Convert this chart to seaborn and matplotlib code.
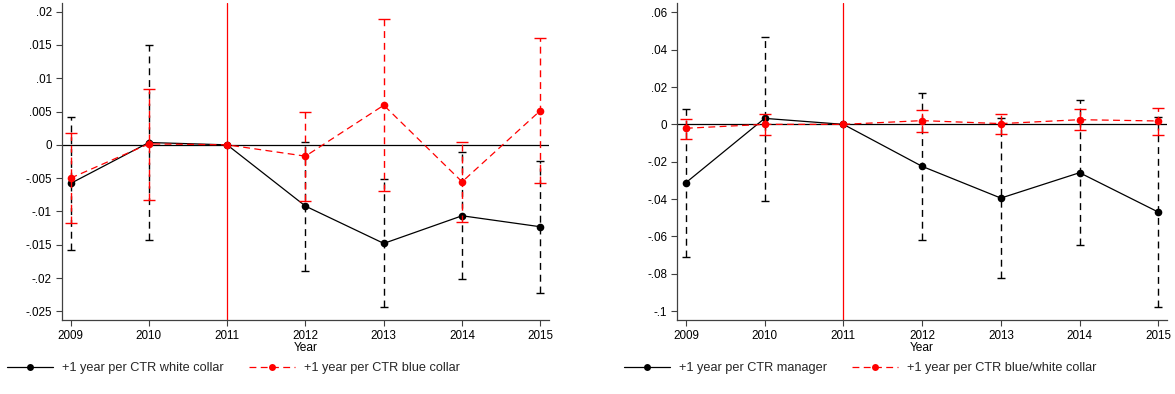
import numpy as np
import pandas as pd
import seaborn as sns
import matplotlib
matplotlib.use("Agg")
import matplotlib.pyplot as plt
from matplotlib.lines import Line2D
from matplotlib.ticker import FixedLocator, FixedFormatter

# ---- data -------------------------------------------------------------
years = [2009, 2010, 2011, 2012, 2013, 2014, 2015]
nan = np.nan

# left panel: white vs blue collar
white_coef = [-0.0058, 0.00035, 0.0, -0.0092, -0.0148, -0.01065, -0.0123]
white_lo = [-0.01585, -0.01425, nan, -0.0190, -0.0244, -0.0202, -0.0222]
white_hi = [0.00415, 0.0150, nan, 0.0005, -0.0052, -0.0010, -0.00245]
blue_coef = [-0.0050, 0.00015, 0.0, -0.0017, 0.00595, -0.00555, 0.00515]
blue_lo = [-0.0117, -0.00825, nan, -0.0085, -0.00695, -0.01155, -0.0058]
blue_hi = [0.0018, 0.00845, nan, 0.0050, 0.01885, 0.00045, 0.01605]

# right panel: manager vs blue/white collar
mgr_coef = [-0.03125, 0.0032, 0.0, -0.0225, -0.0395, -0.0259, -0.0470]
mgr_lo = [-0.0711, -0.0409, nan, -0.0620, -0.0823, -0.0648, -0.0980]
mgr_hi = [0.0084, 0.0470, nan, 0.0168, 0.0032, 0.0132, 0.0041]
bw_coef = [-0.0021, 0.0, 0.0, 0.0020, 0.0004, 0.0025, 0.0018]
bw_lo = [-0.0077, -0.0059, nan, -0.0043, -0.0052, -0.0032, -0.0055]
bw_hi = [0.0030, 0.0057, nan, 0.0079, 0.0055, 0.0084, 0.0089]

left_labels = ["+1 year per CTR white collar", "+1 year per CTR blue collar"]
right_labels = ["+1 year per CTR manager", "+1 year per CTR blue/white collar"]

left_yticks = [0.02, 0.015, 0.01, 0.005, 0.0, -0.005, -0.01, -0.015, -0.02, -0.025]
left_yticklabels = [".02", ".015", ".01", ".005", "0", "-.005", "-.01", "-.015", "-.02", "-.025"]
right_yticks = [0.06, 0.04, 0.02, 0.0, -0.02, -0.04, -0.06, -0.08, -0.1]
right_yticklabels = [".06", ".04", ".02", "0", "-.02", "-.04", "-.06", "-.08", "-.1"]
xticklabels = [str(y) for y in years]
event_year = 2011

# ---- style ------------------------------------------------------------
sns.set_theme(style="white")
plt.rcParams["font.family"] = ["Liberation Sans", "DejaVu Sans"]

fig = plt.figure(figsize=(11.75, 3.94), dpi=100)
ax_l = fig.add_axes([61.7 / 1175, 1 - 320 / 394, (549 - 61.7) / 1175, (320 - 3) / 394])
ax_r = fig.add_axes([677 / 1175, 1 - 320 / 394, (1167 - 677) / 1175, (320 - 3) / 394])

RED = "#ff0000"
BLACK = "#000000"
AXIS_GREY = "#404040"


def draw_series(ax, coef, lo, hi, color, solid, capsize, label):
    df = pd.DataFrame({"Year": years, "coef": coef, "lo": lo, "hi": hi})
    ls = "-" if solid else (0, (5.5, 3.5))
    sns.lineplot(data=df, x="Year", y="coef", ax=ax, color=color, lw=0.9,
                 linestyle=ls, marker="o", markersize=5.5, markeredgewidth=0,
                 label=label, legend=False, zorder=4 if not solid else 3)
    ci = df.dropna()
    eb = ax.errorbar(ci["Year"], (ci["lo"] + ci["hi"]) / 2,
                     yerr=(ci["hi"] - ci["lo"]) / 2, fmt="none",
                     ecolor=color, elinewidth=1.0, capsize=capsize,
                     capthick=1.0, zorder=2.5 if solid else 3.5)
    for coll in eb[2]:
        coll.set_linestyle((0, (5, 3.5)))


def style_axes(ax, yticks, yticklabels, ylim):
    ax.axhline(0, color=BLACK, lw=0.9, zorder=1)
    ax.axvline(event_year, color=RED, lw=0.9, zorder=1)
    ax.set_xlim(2008.887, 2015.11)
    ax.set_ylim(*ylim)
    ax.xaxis.set_major_locator(FixedLocator(years))
    ax.xaxis.set_major_formatter(FixedFormatter(xticklabels))
    ax.yaxis.set_major_locator(FixedLocator(yticks))
    ax.yaxis.set_major_formatter(FixedFormatter(yticklabels))
    for side in ("top", "right"):
        ax.spines[side].set_visible(False)
    for side in ("left", "bottom"):
        ax.spines[side].set_color(AXIS_GREY)
        ax.spines[side].set_linewidth(0.9)
    ax.tick_params(axis="both", which="major", direction="out", length=4.5,
                   width=0.8, color=AXIS_GREY, labelsize=8.4, pad=2.5,
                   left=True, bottom=True, labelcolor=BLACK)
    ax.set_xlabel("Year", fontsize=8.6, labelpad=0.5, color=BLACK)
    ax.set_ylabel("")
    ax.grid(False)


draw_series(ax_l, white_coef, white_lo, white_hi, BLACK, True, 3, left_labels[0])
draw_series(ax_l, blue_coef, blue_lo, blue_hi, RED, False, 4, left_labels[1])
style_axes(ax_l, left_yticks, left_yticklabels, (-0.0263, 0.0213))

draw_series(ax_r, mgr_coef, mgr_lo, mgr_hi, BLACK, True, 3, right_labels[0])
draw_series(ax_r, bw_coef, bw_lo, bw_hi, RED, False, 4, right_labels[1])
style_axes(ax_r, right_yticks, right_yticklabels, (-0.1048, 0.065))


def legend_handles(labels):
    return [
        Line2D([], [], color=BLACK, lw=0.9, marker="o", markersize=5, markeredgewidth=0,
               label=labels[0]),
        Line2D([], [], color=RED, lw=0.9, linestyle=(0, (5.5, 3.5)), marker="o",
               markersize=5, markeredgewidth=0, label=labels[1]),
    ]


for ax, labels, x0 in ((ax_l, left_labels, 7), (ax_r, right_labels, 624)):
    ax.legend(handles=legend_handles(labels), loc="center left",
              bbox_to_anchor=(x0 / 1175, 1 - 368 / 394), bbox_transform=fig.transFigure,
              ncol=2, frameon=False, fontsize=9.2, handlelength=3.6,
              handletextpad=0.7, columnspacing=2.0, borderpad=0, borderaxespad=0)

fig.savefig("out.png", dpi=100, facecolor="white")
